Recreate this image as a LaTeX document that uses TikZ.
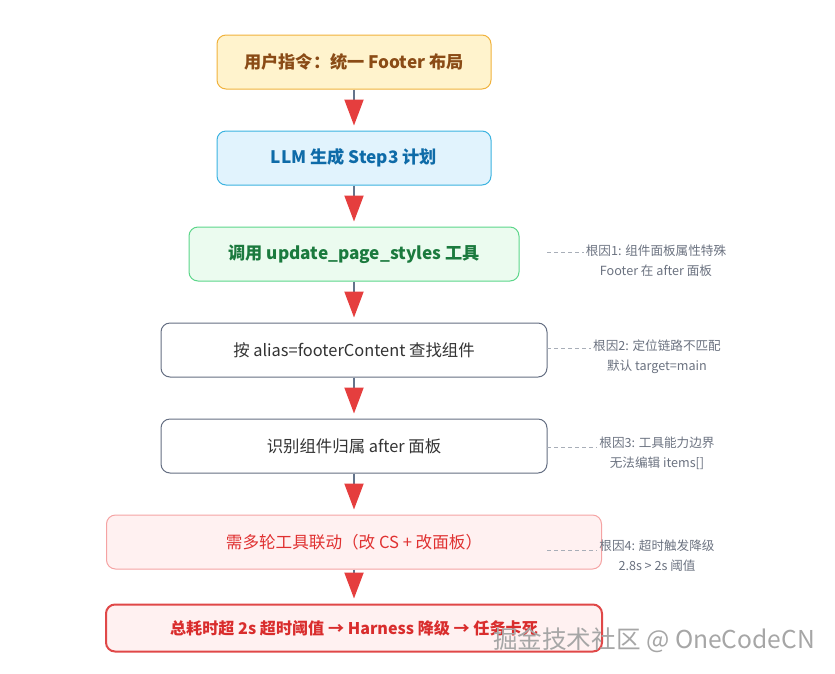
\documentclass[tikz,border=0pt]{standalone}
\usepackage{fontspec}
\setmainfont{Noto Sans CJK SC}
\usetikzlibrary{arrows.meta}

\definecolor{userfill}{HTML}{FFF3CD}
\definecolor{userline}{HTML}{F0B23C}
\definecolor{usertext}{HTML}{8A4B16}
\definecolor{llmfill}{HTML}{E1F3FD}
\definecolor{llmline}{HTML}{3BB3E0}
\definecolor{llmtext}{HTML}{0E6BA8}
\definecolor{toolfill}{HTML}{EBFBEF}
\definecolor{toolline}{HTML}{5CD68A}
\definecolor{tooltext}{HTML}{1B7A3E}
\definecolor{stepline}{HTML}{646E82}
\definecolor{steptext}{HTML}{333333}
\definecolor{warnfill}{HTML}{FFF1F1}
\definecolor{warnline}{HTML}{F5A3A3}
\definecolor{warntext}{HTML}{E03131}
\definecolor{failline}{HTML}{E04848}
\definecolor{failtext}{HTML}{D92D2D}
\definecolor{flowgray}{HTML}{64748B}
\definecolor{flowred}{HTML}{E53E3E}
\definecolor{notegray}{HTML}{6B7280}
\definecolor{dashgray}{HTML}{A8AEB8}

\begin{document}
\begin{tikzpicture}[x=1pt, y=-1pt,
    box/.style={rounded corners=9pt, line width=1pt, minimum height=54pt,
        inner sep=0pt, font=\fontsize{16.4}{19}\selectfont},
    boldbox/.style={box, font=\fontsize{17.2}{19}\selectfont\bfseries},
    flow/.style={line width=2pt, flowgray, shorten >=5pt,
        -{Triangle[width=19pt, length=26pt, color=flowred]}},
    note/.style={align=center, inner sep=2pt, text=notegray,
        font=\fontsize{12.6}{20}\selectfont},
    notelink/.style={dashgray, line width=1pt, dash pattern=on 4pt off 3pt}]
    \useasboundingbox (0,0) rectangle (835,673);

    % Draw the steps
    \node[boldbox, draw=userline, fill=userfill, text=usertext, minimum width=274pt]
        (user) at (354,62) {用户指令：统一 Footer 布局};
    \node[boldbox, draw=llmline, fill=llmfill, text=llmtext, minimum width=274pt]
        (llm) at (354,158) {LLM 生成 Step3 计划};
    \node[boldbox, draw=toolline, fill=toolfill, text=tooltext, minimum width=330pt]
        (tool) at (354,254) {调用 update\_page\_styles 工具};
    \node[box, draw=stepline, fill=white, text=steptext, minimum width=386pt]
        (find) at (354,350) {按 alias=footerContent 查找组件};
    \node[box, draw=stepline, fill=white, text=steptext, minimum width=386pt]
        (panel) at (354,446) {识别组件归属 after 面板};
    \node[box, draw=warnline, fill=warnfill, text=warntext, minimum width=495pt, font=\fontsize{16.6}{19}\selectfont]
        (multi) at (354,542) {需多轮工具联动（改 CS + 改面板）};
    \node[box, draw=failline, line width=2pt, fill=warnfill, text=failtext, minimum width=496pt, minimum height=47pt,
        font=\fontsize{16.1}{19}\selectfont\bfseries]
        (fail) at (354,628) {总耗时超 2s 超时阈值 → Harness 降级 → 任务卡死};

    % Connect the steps
    \draw[flow] (user) -- (llm);
    \draw[flow] (llm) -- (tool);
    \draw[flow] (tool) -- (find);
    \draw[flow] (find) -- (panel);
    \draw[flow] (panel) -- (multi);
    \draw[flow] (multi) -- (fail);

    % Root cause notes
    \node[note] (cause1) at (656,261) {根因1: 组件面板属性特殊\\Footer 在 after 面板};
    \node[note] (cause2) at (657,357) {根因2: 定位链路不匹配\\默认 target=main};
    \node[note] (cause3) at (657,453) {根因3: 工具能力边界\\无法编辑 items[]};
    \node[note] (cause4) at (657,556) {根因4: 超时触发降级\\2.8s > 2s 阈值};
    \coordinate (from1) at (547,252);
    \coordinate (from2) at (547,348);
    \coordinate (from3) at (547,447);
    \coordinate (from4) at (547,550);
    \draw[notelink] (from1) -- (from1 -| cause1.west);
    \draw[notelink] (from2) -- (from2 -| cause2.west);
    \draw[notelink] (from3) -- (from3 -| cause3.west);
    \draw[notelink] (from4) -- (from4 -| cause4.west);

    % Watermark
    \node[text=gray!70, font=\fontsize{24.6}{26}\selectfont] (mark) at (654,640) {掘金技术社区 @ OneCodeCN};
\end{tikzpicture}
\end{document}
